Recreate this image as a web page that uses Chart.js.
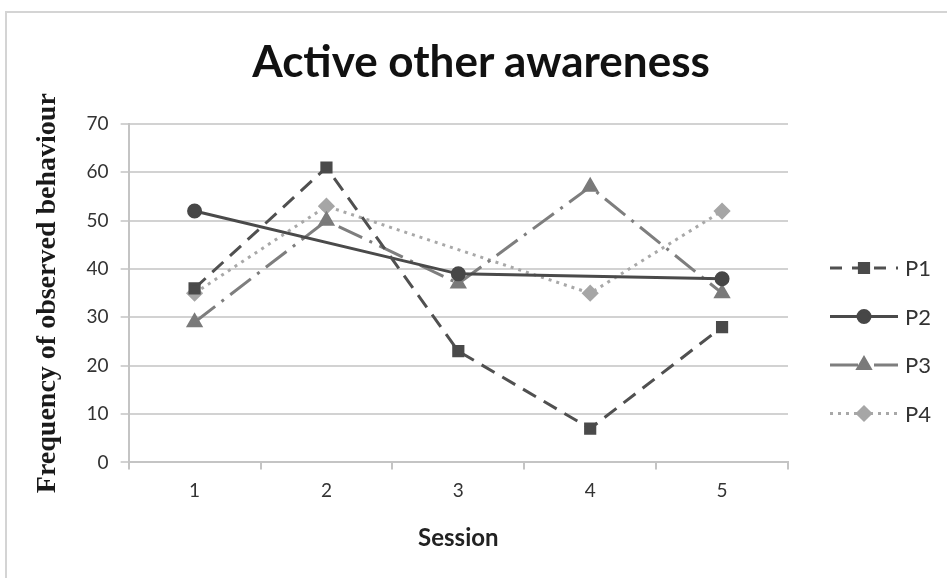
<!DOCTYPE html>
<html>
<head>
<meta charset="utf-8">
<script src="https://cdn.jsdelivr.net/npm/chart.js@4/dist/chart.umd.min.js"></script>
<style>
  html, body { margin: 0; padding: 0; background: #fff; }
  #wrap { position: relative; width: 947px; height: 578px; }
  #frame { position: absolute; left: 5px; top: 11px; right: 0; bottom: 0;
           border-top: 2px solid #d4d4d4; border-left: 2px solid #d4d4d4; }
  #title { position: absolute; left: 0; width: 962px; top: 34px; text-align: center;
           font: bold 44px Lato, sans-serif; color: #111; }
  canvas { position: absolute; left: 0; top: 0; }
</style>
</head>
<body>
<div id="wrap">
  <div id="frame"></div>
  <canvas id="chart" width="947" height="578"></canvas>
  <div id="title">Active other awareness</div>
</div>
<script>
// ---------- Data ----------
const sessions = ['1', '2', '3', '4', '5'];
const p1 = [36, 61, 23, 7, 28];
const p2 = [52, null, 39, null, 38];
const p3 = [29, 50, 37, 57, 35];
const p4 = [35, 53, null, 35, 52];
const yTicks = [0, 10, 20, 30, 40, 50, 60, 70];

const tickFont = { family: 'Lato', size: 19 };

// ---------- Legend drawn with line samples ----------
const lineLegend = {
  id: 'lineLegend',
  afterDraw(chart) {
    const ctx = chart.ctx;
    const area = chart.chartArea;
    const x0 = area.right + 42;
    chart.data.datasets.forEach((ds, i) => {
      const y = area.top + 144 + i * 48.5;
      ctx.save();
      ctx.strokeStyle = ds.borderColor;
      ctx.lineWidth = ds.borderWidth;
      ctx.setLineDash(ds.legendDash || ds.borderDash || []);
      ctx.beginPath();
      ctx.moveTo(x0, y);
      ctx.lineTo(x0 + 68, y);
      ctx.stroke();
      ctx.setLineDash([]);
      ctx.fillStyle = ds.pointBackgroundColor;
      ctx.strokeStyle = ds.pointBackgroundColor;
      Chart.helpers.drawPoint(ctx, {
        pointStyle: ds.pointStyle,
        radius: ds.pointRadius,
        rotation: 0,
        borderWidth: 1
      }, x0 + 34, y);
      ctx.fillStyle = '#333';
      ctx.font = '22px Lato';
      ctx.textBaseline = 'middle';
      ctx.fillText(ds.label, x0 + 75, y + 1);
      ctx.restore();
    });
  }
};

new Chart(document.getElementById('chart'), {
  type: 'line',
  data: {
    labels: sessions,
    datasets: [
      {
        label: 'P1', data: p1,
        borderColor: '#505050', borderWidth: 3, borderDash: [15, 9],
        legendDash: [12, 10],
        pointStyle: 'rect', pointRadius: 6.5,
        pointBackgroundColor: '#4a4a4a', pointBorderColor: '#4a4a4a'
      },
      {
        label: 'P2', data: p2, spanGaps: true,
        borderColor: '#4a4a4a', borderWidth: 3,
        pointStyle: 'circle', pointRadius: 6,
        pointBackgroundColor: '#474747', pointBorderColor: '#474747'
      },
      {
        label: 'P3', data: p3,
        borderColor: '#7e7e7e', borderWidth: 3, borderDash: [26, 8, 3, 8],
        legendDash: [28, 16],
        pointStyle: 'triangle', pointRadius: 7,
        pointBackgroundColor: '#7a7a7a', pointBorderColor: '#7a7a7a'
      },
      {
        label: 'P4', data: p4, spanGaps: true,
        borderColor: '#a8a8a8', borderWidth: 3, borderDash: [3, 5],
        pointStyle: 'rectRot', pointRadius: 6.5,
        pointBackgroundColor: '#a6a6a6', pointBorderColor: '#a6a6a6'
      }
    ]
  },
  options: {
    responsive: false,
    animation: false,
    layout: { padding: { left: 31, right: 159, top: 124, bottom: 25 } },
    plugins: {
      legend: { display: false },
      tooltip: { enabled: false }
    },
    scales: {
      x: {
        offset: true,
        grid: { offset: true, drawOnChartArea: false, drawTicks: true, tickLength: 7, color: '#c4c4c4', lineWidth: 2 },
        border: { display: true, color: '#c4c4c4', width: 2 },
        ticks: { color: '#333', font: tickFont, padding: 10 },
        title: {
          display: true, text: 'Session', color: '#222',
          font: { family: 'Lato', size: 24, weight: 'bold' },
          padding: { top: 12, bottom: 0 }
        }
      },
      y: {
        min: 0, max: 70,
        afterBuildTicks(scale) { scale.ticks = yTicks.map(v => ({ value: v })); },
        grid: { color: '#d2d2d2', lineWidth: 2, tickLength: 8 },
        border: { display: true, color: '#c4c4c4', width: 2 },
        ticks: { color: '#333', font: tickFont, padding: 12 },
        title: {
          display: true, text: 'Frequency of observed behaviour', color: '#1a1a1a',
          font: { family: 'Liberation Serif', size: 28, weight: 'bold' },
          padding: { top: 0, bottom: 10 }
        }
      }
    }
  },
  plugins: [lineLegend]
});
</script>
</body>
</html>
